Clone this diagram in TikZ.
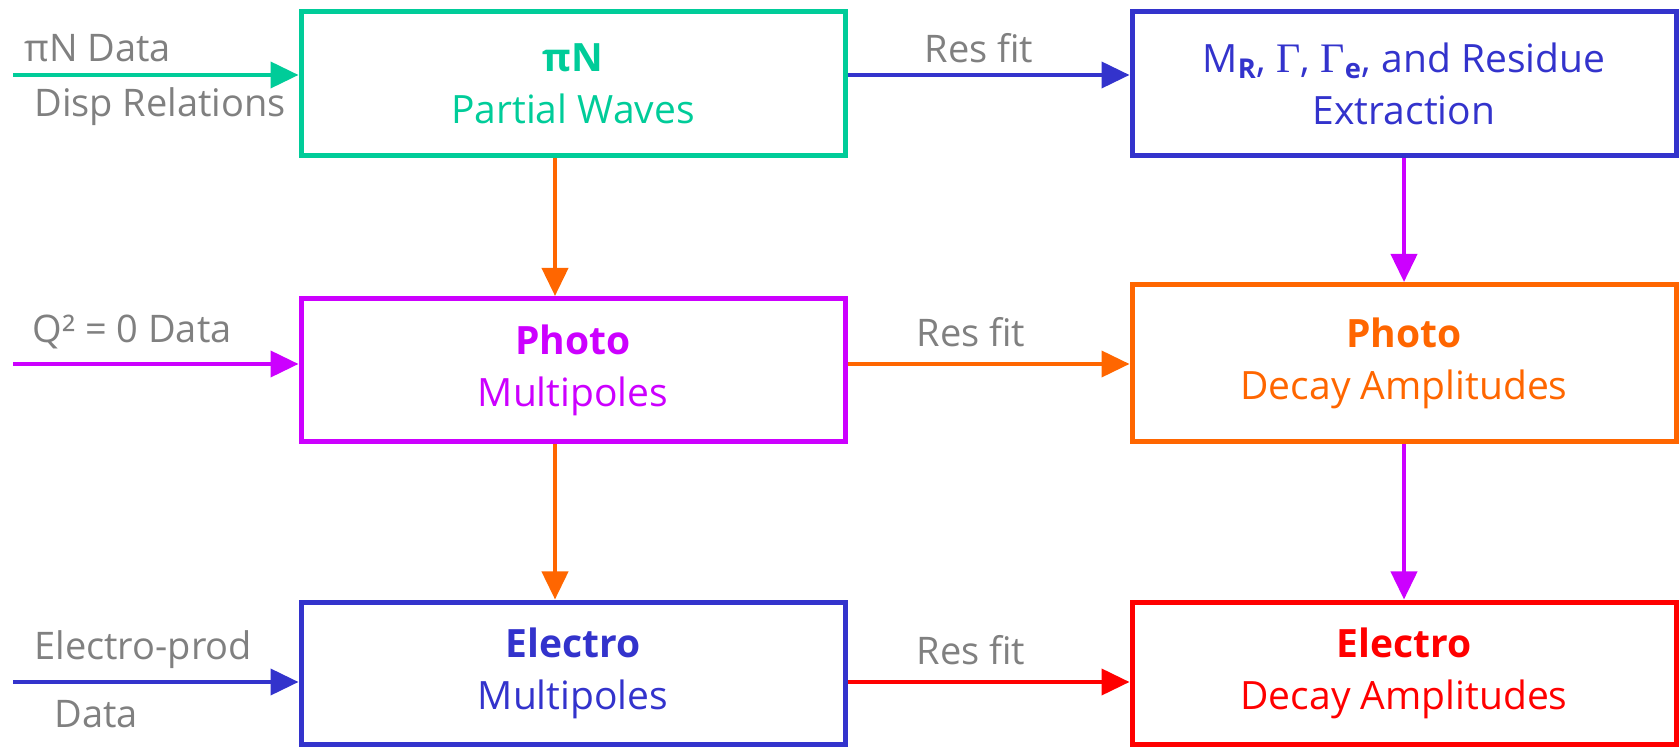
\documentclass[tikz,border=0pt]{standalone}
\usepackage{fontspec}
\setmainfont{Open Sans}
\newfontfamily\gfont{Liberation Serif}
\usetikzlibrary{arrows.meta}
\definecolor{cteal}{RGB}{0,204,153}
\definecolor{cblue}{RGB}{51,51,204}
\definecolor{cmag}{RGB}{204,0,255}
\definecolor{corange}{RGB}{255,102,0}
\definecolor{cred}{RGB}{255,0,0}
\definecolor{cgray}{RGB}{128,128,128}
\begin{document}
\begin{tikzpicture}[x=0.5pt,y=-0.5pt,
 box/.style={draw, line width=2.5pt, minimum width=272pt, align=center, inner sep=0pt, font=\fontsize{19.5}{26}\selectfont},
 arr/.style={line width=2pt, -{Triangle[length=14pt,width=13pt]}},
 lab/.style={text=cgray, font=\fontsize{19}{22}\selectfont, inner sep=0pt}]
\useasboundingbox (0,0) rectangle (1679,747);
% boxes
\node[box, draw=cteal, text=cteal, minimum height=72pt] (b1) at (573,84) {\textbf{πN}\\Partial Waves};
\node[box, draw=cblue, text=cblue, minimum height=72pt] (b2) at (1404,84) {M\textsubscript{\textbf{R}}, {\gfont\fontsize{21}{26}\selectfont Γ}, {\gfont\fontsize{21}{26}\selectfont Γ}\textsubscript{\textbf{e}}, and Residue\\Extraction};
\node[box, draw=cmag, text=cmag, minimum height=71.5pt] (b3) at (573,370) {\textbf{Photo}\\Multipoles};
\node[box, draw=corange, text=corange, minimum height=78.5pt] (b4) at (1404,363) {\textbf{Photo}\\Decay Amplitudes};
\node[box, draw=cblue, text=cblue, minimum height=71pt] (b5) at (573,673) {\textbf{Electro}\\Multipoles};
\node[box, draw=cred, text=cred, minimum height=71pt] (b6) at (1404,673) {\textbf{Electro}\\Decay Amplitudes};
% input coordinates
\coordinate (s1) at (13,75);
\coordinate (s2) at (13,364);
\coordinate (s3) at (13,682);
\coordinate (vl) at (555,0);
\coordinate (vr) at (1404,0);
% horizontal arrows
\draw[arr, cteal] (s1) -- (s1 -| b1.west);
\draw[arr, cblue] (b1.east |- s1) -- (b2.west |- s1);
\draw[arr, cmag] (s2) -- (s2 -| b3.west);
\draw[arr, corange] (b3.east |- s2) -- (b4.west |- s2);
\draw[arr, cblue] (s3) -- (s3 -| b5.west);
\draw[arr, cred] (b5.east |- s3) -- (b6.west |- s3);
% vertical arrows
\draw[arr, corange] (b1.south -| vl) -- (b3.north -| vl);
\draw[arr, corange] (b3.south -| vl) -- (b5.north -| vl);
\draw[arr, cmag] (b2.south -| vr) -- (b4.north -| vr);
\draw[arr, cmag] (b4.south -| vr) -- (b6.north -| vr);
% labels
\node[lab, anchor=west] (l1) at (24,48) {πN Data};
\node[lab, anchor=west] (l2) at (34,107) {Disp Relations};
\node[lab] (l3) at (979,48) {Res fit};
\node[lab, anchor=west] (l4) at (32,332) {Q² = 0 Data};
\node[lab] (l5) at (971,332) {Res fit};
\node[lab, anchor=west] (l6) at (34,650) {Electro-prod};
\node[lab, anchor=west] (l7) at (54,714) {Data};
\node[lab] (l8) at (971,650) {Res fit};
\end{tikzpicture}
\end{document}
